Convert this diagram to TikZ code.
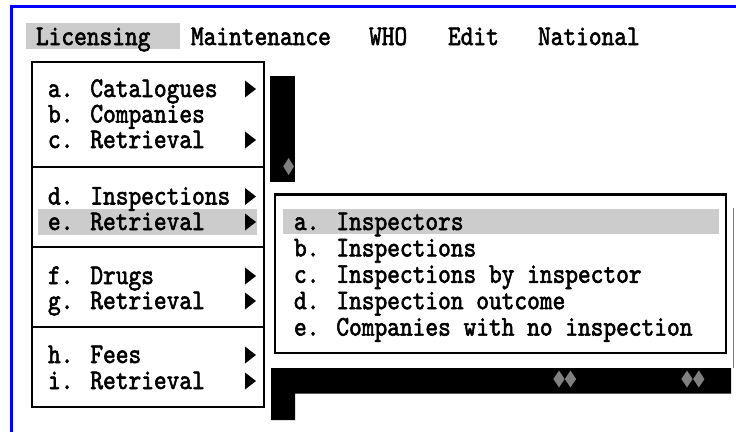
\documentclass[tikz,border=0pt]{standalone}
\usepackage{fontspec}
\newfontfamily\dosfont[FakeStretch=0.85,FakeBold=2]{lmmono10-regular.otf}
\definecolor{hlgray}{RGB}{204,204,204}
\definecolor{diagray}{RGB}{128,128,128}
\definecolor{framblue}{RGB}{0,0,255}
\newcommand{\dosTxt}[1]{{\dosfont\fontsize{28.5pt}{29pt}\selectfont #1}}
\tikzset{
  txt/.style={anchor=base west, inner sep=0pt, outer sep=0pt},
  hlbar/.style={fill=hlgray},
  boxline/.style={draw=black, line width=2.4pt},
  sepline/.style={draw=black, line width=2pt},
  shadow/.style={fill=black},
  diam/.style={fill=diagray}
}
\begin{document}
\begin{tikzpicture}[x=1pt,y=-1pt]
\useasboundingbox (0,0) rectangle (736,432);
% blue frame
\draw[framblue, line width=3pt] (11,432) -- (11,6) -- (736,6);
% menu bar
\fill[hlbar] (26,23) rectangle (180,49);
\node[txt] (lic) at (36,45) {\dosTxt{Licensing}};
\node[txt] (maint) at (191,45) {\dosTxt{Maintenance}};
\node[txt] (who) at (369,45) {\dosTxt{WHO}};
\node[txt] (edit) at (448,45) {\dosTxt{Edit}};
\node[txt] (natl) at (538,45) {\dosTxt{National}};
% upper shadow bar
\fill[shadow] (270,76) rectangle (295,182);
\fill[diam] (283.3,166.5) -- (288.6,158) -- (293.9,166.5) -- (288.6,175) -- cycle;
% left menu
\fill[white] (32,62) rectangle (264,407);
\fill[hlbar] (38,209) rectangle (257,235);
\draw[boxline] (32,62) rectangle (264,407);
\draw[sepline] (32,167) -- (264,167);
\draw[sepline] (32,247) -- (264,247);
\draw[sepline] (32,327) -- (264,327);
\node[txt] (la) at (48,97) {\dosTxt{a. Catalogues}};
\node[txt] (lb) at (48,122.5) {\dosTxt{b. Companies}};
\node[txt] (lc) at (48,148) {\dosTxt{c. Retrieval}};
\node[txt] (ld) at (48,204.5) {\dosTxt{d. Inspections}};
\node[txt] (le) at (48,230) {\dosTxt{e. Retrieval}};
\node[txt] (lf) at (48,284) {\dosTxt{f. Drugs}};
\node[txt] (lg) at (48,309) {\dosTxt{g. Retrieval}};
\node[txt] (lh) at (48,363) {\dosTxt{h. Fees}};
\node[txt] (li) at (48,389) {\dosTxt{i. Retrieval}};
\foreach \b in {97,148,204.5,230,284,309,363,389}
  \fill (245,{\b-16.5}) -- (256,{\b-8}) -- (245,{\b+0.5}) -- cycle;
% bottom shadow bar
\fill[shadow] (271,368) -- (731,368) -- (731,393.5) -- (295,393.5) -- (295,420) -- (271,420) -- cycle;
\foreach \c in {559,570.5,687,698.8}
  \fill[diam] ({\c-5.6},379) -- (\c,370.5) -- ({\c+5.6},379) -- (\c,387.5) -- cycle;
\draw[diagray, line width=1pt] (733,208) -- (733,368);
% submenu
\fill[white] (275,194.5) rectangle (726,353);
\fill[hlbar] (283,209) rectangle (719,234);
\draw[boxline] (275,194.5) rectangle (726,353);
\node[txt] (sa) at (294,230) {\dosTxt{a. Inspectors}};
\node[txt] (sb) at (294,256.4) {\dosTxt{b. Inspections}};
\node[txt] (sc) at (294,282.8) {\dosTxt{c. Inspections by inspector}};
\node[txt] (sd) at (294,309.2) {\dosTxt{d. Inspection outcome}};
\node[txt] (se) at (294,335.6) {\dosTxt{e. Companies with no inspection}};
\end{tikzpicture}
\end{document}
